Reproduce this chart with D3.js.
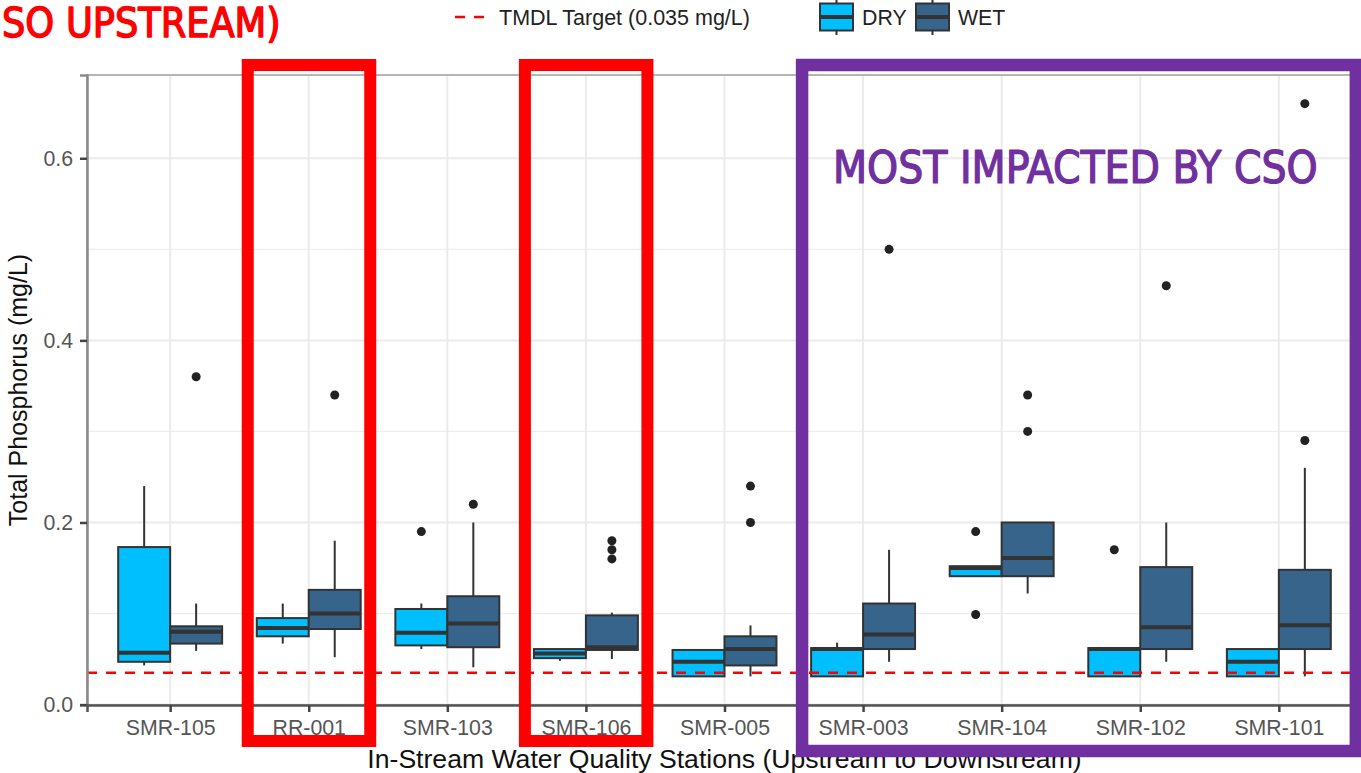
<!DOCTYPE html>
<html>
<head>
<meta charset="utf-8">
<script src="https://cdn.jsdelivr.net/npm/d3@7"></script>
<style>
  html, body { margin: 0; padding: 0; background: #ffffff; }
  svg { display: block; font-family: "Liberation Sans", Arial, sans-serif; }
</style>
</head>
<body>
<svg id="chart" width="1361" height="773"></svg>
<script>
// ---------- DATA ----------
const stations = ["SMR-105", "RR-001", "SMR-103", "SMR-106", "SMR-005", "SMR-003", "SMR-104", "SMR-102", "SMR-101"];
const groups = ["DRY", "WET"];

// DRY season box statistics (mg/L)
const dryLow    = [0.043, 0.067, 0.061, 0.048, 0.031, 0.031, 0.141, 0.031, 0.031];
const dryQ1     = [0.047, 0.075, 0.065, 0.051, 0.031, 0.031, 0.141, 0.031, 0.031];
const dryMedian = [0.057, 0.084, 0.079, 0.056, 0.047, 0.061, 0.150, 0.061, 0.047];
const dryQ3     = [0.173, 0.095, 0.105, 0.061, 0.060, 0.062, 0.152, 0.062, 0.061];
const dryHigh   = [0.240, 0.111, 0.111, 0.061, 0.060, 0.068, 0.152, 0.062, 0.061];
const dryOutliers = [[], [], [0.19], [], [], [], [0.19, 0.099], [0.17], []];

// WET season box statistics (mg/L)
const wetLow    = [0.059, 0.052, 0.041, 0.050, 0.031, 0.047, 0.122, 0.047, 0.031];
const wetQ1     = [0.067, 0.083, 0.063, 0.060, 0.043, 0.061, 0.141, 0.061, 0.061];
const wetMedian = [0.080, 0.100, 0.089, 0.063, 0.061, 0.077, 0.161, 0.085, 0.087];
const wetQ3     = [0.086, 0.126, 0.119, 0.098, 0.075, 0.111, 0.200, 0.151, 0.148];
const wetHigh   = [0.111, 0.180, 0.200, 0.101, 0.087, 0.170, 0.200, 0.200, 0.260];
const wetOutliers = [[0.36], [0.34], [0.22], [0.18, 0.17, 0.16], [0.24, 0.20], [0.50], [0.34, 0.30], [0.46], [0.66, 0.29]];

const tmdlTarget = 0.035;
const yTicks = [0.0, 0.2, 0.4, 0.6];
const yMinorTicks = [0.1, 0.3, 0.5];

const legendLineLabel = "TMDL Target (0.035 mg/L)";
const xTitle = "In-Stream Water Quality Stations (Upstream to Downstream)";
const yTitle = "Total Phosphorus (mg/L)";
const leftNote = "SO UPSTREAM)";
const rightNote = "MOST IMPACTED BY CSO";
const redHighlight = ["RR-001", "SMR-106"];
const purpleHighlight = ["SMR-003", "SMR-101"];

// ---------- BUILD ----------
const colors = { DRY: "#00BFFF", WET: "#36648B" };
const boxes = [];
stations.forEach((s, i) => {
  boxes.push({ station: s, group: "DRY", low: dryLow[i], q1: dryQ1[i], med: dryMedian[i], q3: dryQ3[i], high: dryHigh[i], out: dryOutliers[i] });
  boxes.push({ station: s, group: "WET", low: wetLow[i], q1: wetQ1[i], med: wetMedian[i], q3: wetQ3[i], high: wetHigh[i], out: wetOutliers[i] });
});

const svg = d3.select("#chart");
const panel = { left: 87, right: 1362, top: 75, bottom: 705 };

const allVals = boxes.flatMap(b => [b.low, b.high, ...b.out]);
const lo = d3.min(allVals), hi = d3.max(allVals);
const pad = (hi - lo) * 0.05;
const y = d3.scaleLinear().domain([lo - pad, hi + pad]).range([panel.bottom, panel.top]);

const x = d3.scalePoint().domain(stations).range([panel.left, panel.right]).padding(0.6);
const step = x.step();
const boxW = step * 0.75 / 2;
const xg = d3.scaleBand().domain(groups).range([-boxW, boxW]);

// Panel background & grid
const g = svg.append("g");
g.append("rect").attr("x", panel.left).attr("y", panel.top)
  .attr("width", panel.right - panel.left).attr("height", panel.bottom - panel.top)
  .attr("fill", "#ffffff");

g.selectAll(".minor").data(yMinorTicks).join("line")
  .attr("x1", panel.left).attr("x2", panel.right)
  .attr("y1", d => y(d)).attr("y2", d => y(d))
  .attr("stroke", "#EEEEEE").attr("stroke-width", 1.2);
g.selectAll(".major").data(yTicks).join("line")
  .attr("x1", panel.left).attr("x2", panel.right)
  .attr("y1", d => y(d)).attr("y2", d => y(d))
  .attr("stroke", "#EBEBEB").attr("stroke-width", 2);
g.selectAll(".vgrid").data(stations).join("line")
  .attr("x1", d => x(d)).attr("x2", d => x(d))
  .attr("y1", panel.top).attr("y2", panel.bottom)
  .attr("stroke", "#EBEBEB").attr("stroke-width", 2);

// Panel border
g.append("rect").attr("x", panel.left).attr("y", panel.top)
  .attr("width", panel.right - panel.left).attr("height", panel.bottom - panel.top)
  .attr("fill", "none").attr("stroke", "#B5B5B5").attr("stroke-width", 2);

// Boxes
const bx = g.append("g");
const bg = bx.selectAll(".box").data(boxes).join("g")
  .attr("transform", d => `translate(${x(d.station) + xg(d.group)},0)`);
const bw = xg.bandwidth();
bg.append("line").attr("x1", bw / 2).attr("x2", bw / 2)
  .attr("y1", d => y(d.high)).attr("y2", d => y(d.q3))
  .attr("stroke", "#333333").attr("stroke-width", 2);
bg.append("line").attr("x1", bw / 2).attr("x2", bw / 2)
  .attr("y1", d => y(d.q1)).attr("y2", d => y(d.low))
  .attr("stroke", "#333333").attr("stroke-width", 2);
bg.append("rect").attr("x", 0).attr("width", bw)
  .attr("y", d => y(d.q3)).attr("height", d => Math.max(0.5, y(d.q1) - y(d.q3)))
  .attr("fill", d => colors[d.group]).attr("stroke", "#333333").attr("stroke-width", 2);
bg.append("line").attr("x1", 0).attr("x2", bw)
  .attr("y1", d => y(d.med)).attr("y2", d => y(d.med))
  .attr("stroke", "#333333").attr("stroke-width", 4);
bg.selectAll("circle").data(d => d.out).join("circle")
  .attr("cx", bw / 2).attr("cy", d => y(d)).attr("r", 4.5)
  .attr("fill", "#222222");

// TMDL line
g.append("line").attr("x1", panel.left).attr("x2", panel.right)
  .attr("y1", y(tmdlTarget)).attr("y2", y(tmdlTarget))
  .attr("stroke", "#FF0000").attr("stroke-width", 2.5).attr("stroke-dasharray", "10,9");

// Axes
const yAxis = d3.axisLeft(y).tickValues(yTicks).tickFormat(d3.format(".1f")).tickSize(7).tickPadding(7);
const ya = svg.append("g").attr("transform", `translate(${panel.left},0)`).call(yAxis);
ya.select(".domain").attr("stroke", "#8A8A8A").attr("stroke-width", 2.5);
ya.selectAll(".tick line").attr("stroke", "#444444").attr("stroke-width", 2.5);
ya.selectAll(".tick text").attr("fill", "#555555").attr("font-size", 21.3)
  .attr("font-family", "'Liberation Sans', Arial, sans-serif");

const xAxis = d3.axisBottom(x).tickSize(7).tickPadding(8);
const xa = svg.append("g").attr("transform", `translate(0,${panel.bottom})`).call(xAxis);
xa.select(".domain").attr("stroke", "#555555").attr("stroke-width", 2.5);
xa.selectAll(".tick line").attr("stroke", "#444444").attr("stroke-width", 2.5);
xa.selectAll(".tick text").attr("fill", "#555555").attr("font-size", 21.3)
  .attr("font-family", "'Liberation Sans', Arial, sans-serif");

// Axis titles
svg.append("text").attr("x", (panel.left + panel.right) / 2).attr("y", 768)
  .attr("text-anchor", "middle").attr("font-size", 26.6).attr("fill", "#111111").text(xTitle);
svg.append("text").attr("transform", `translate(27,${(panel.top + panel.bottom) / 2}) rotate(-90)`)
  .attr("text-anchor", "middle").attr("font-size", 25).attr("fill", "#111111").text(yTitle);

// Legend
const lg = svg.append("g");
const ly = 17;
lg.append("line").attr("x1", 455).attr("x2", 484).attr("y1", ly).attr("y2", ly)
  .attr("stroke", "#FF0000").attr("stroke-width", 2.5).attr("stroke-dasharray", "10,9");
lg.append("text").attr("x", 499).attr("y", ly + 7.6).attr("font-size", 21.5).attr("fill", "#222222").text(legendLineLabel);
const keyX = { DRY: 820, WET: 916 };
groups.forEach(gr => {
  const kx = keyX[gr], kw = 33;
  lg.append("line").attr("x1", kx + kw / 2).attr("x2", kx + kw / 2).attr("y1", ly - 18).attr("y2", ly + 18)
    .attr("stroke", "#333333").attr("stroke-width", 2);
  lg.append("rect").attr("x", kx).attr("y", ly - 13.5).attr("width", kw).attr("height", 27)
    .attr("fill", colors[gr]).attr("stroke", "#333333").attr("stroke-width", 2);
  lg.append("line").attr("x1", kx).attr("x2", kx + kw).attr("y1", ly).attr("y2", ly)
    .attr("stroke", "#333333").attr("stroke-width", 4);
  lg.append("text").attr("x", kx + 42).attr("y", ly + 7.6).attr("font-size", 21.3).attr("fill", "#222222").text(gr);
});

// Highlight rectangles (annotation overlay)
const ann = svg.append("g");
redHighlight.forEach(s => {
  const cx = x(s);
  ann.append("rect").attr("x", cx - 61).attr("y", 65).attr("width", 122.5).attr("height", 676)
    .attr("fill", "none").attr("stroke", "#FF0000").attr("stroke-width", 12);
});
const pL = x(purpleHighlight[0]) - 61, pR = x(purpleHighlight[1]) + 77;
ann.append("rect").attr("x", pL).attr("y", 65).attr("width", pR - pL).attr("height", 686)
  .attr("fill", "none").attr("stroke", "#7030A0").attr("stroke-width", 12.5);

// Annotation texts: size fitted to the target width in the installed condensed font
const condensed = "'DejaVu Sans Condensed', 'Liberation Sans Narrow', sans-serif";
function fitText(str, x0, base, width, color, sw) {
  const t = ann.append("text").attr("x", x0).attr("y", base)
    .attr("font-family", condensed).attr("font-size", 40).attr("fill", color)
    .attr("stroke", color).attr("stroke-width", sw).attr("stroke-linejoin", "round").text(str);
  const w = t.node().getComputedTextLength();
  t.attr("font-size", 40 * (width - sw) / w);
  return t;
}
fitText(rightNote, 833, 183, 486, "#7030A0", 1.2);
fitText(leftNote, 2, 37, 280, "#FF0000", 1.4);
</script>
</body>
</html>
